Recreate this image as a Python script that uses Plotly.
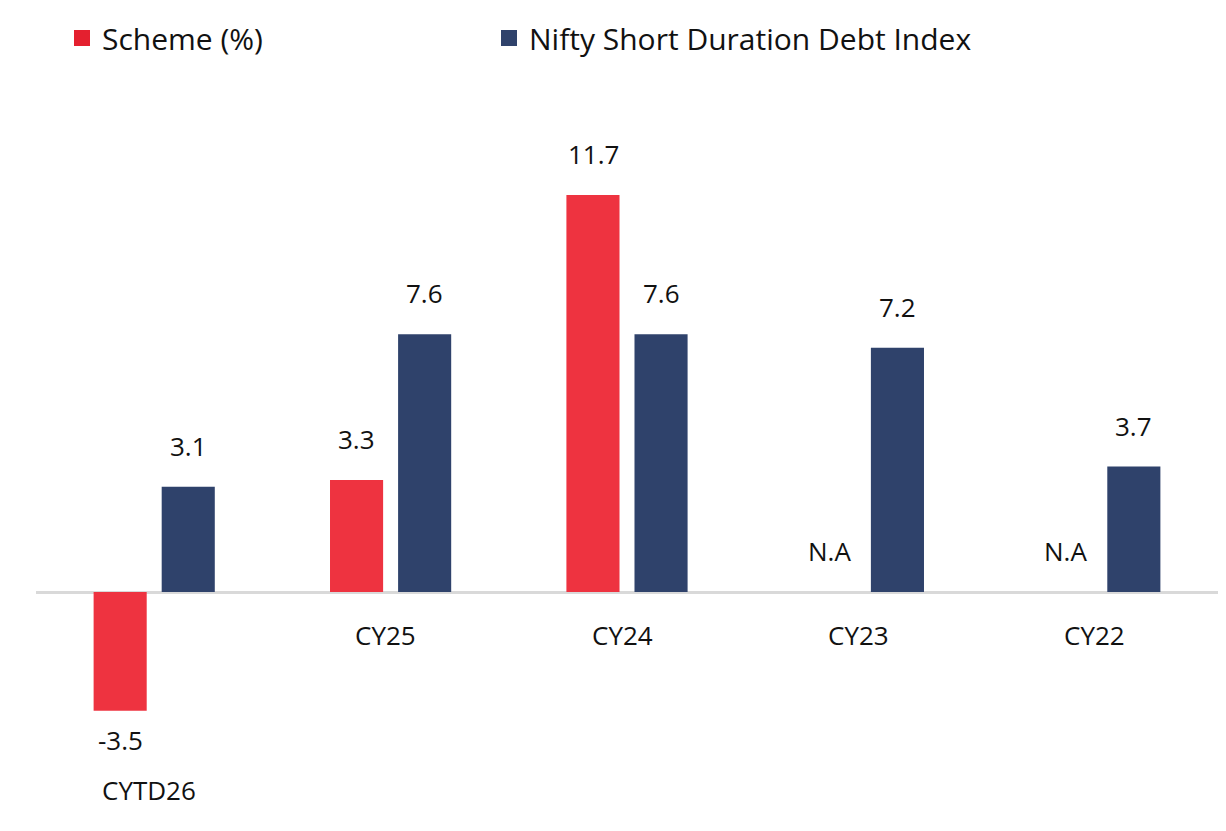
import plotly.graph_objects as go

categories = ["CYTD26", "CY25", "CY24", "CY23", "CY22"]
scheme = [-3.5, 3.3, 11.7, None, None]
index_vals = [3.1, 7.6, 7.6, 7.2, 3.7]
series_names = ["Scheme (%)", "Nifty Short Duration Debt Index"]
na_label = "N.A"

RED = "#EE3340"
RED_LEG = "#E4202F"
BLUE = "#2F426B"
FONT = "'Open Sans', sans-serif"
LBL = 26

fig = go.Figure()
fig.add_trace(go.Bar(x=categories, y=scheme, name=series_names[0], showlegend=False,
                     marker=dict(color=RED, line=dict(width=0))))
fig.add_trace(go.Bar(x=categories, y=index_vals, name=series_names[1], showlegend=False,
                     marker=dict(color=BLUE, line=dict(width=0))))
# legend entries (square swatches), one legend box each
for nm, col, lg in ((series_names[0], RED_LEG, "legend"), (series_names[1], BLUE, "legend2")):
    fig.add_trace(go.Scatter(x=[None], y=[None], mode="markers", name=nm, legend=lg,
                             marker=dict(symbol="square", size=16, color=col)))

ann = []
SH = 34
for i, c in enumerate(categories):
    for vals, xs in ((scheme, -SH), (index_vals, SH)):
        v = vals[i]
        if v is None:
            ann.append(dict(x=c, y=0, text=na_label, xshift=xs, yshift=41,
                            showarrow=False, font=dict(size=LBL, color="#111")))
        elif v >= 0:
            ann.append(dict(x=c, y=v, text=f"{v:.1f}", xshift=xs, yshift=41,
                            showarrow=False, font=dict(size=LBL, color="#111")))
        else:
            ann.append(dict(x=c, y=v, text=f"{v:.1f}", xshift=xs, yshift=-29,
                            showarrow=False, font=dict(size=LBL, color="#111")))
    mins = [v for v in (scheme[i], index_vals[i]) if v is not None]
    lo = min(mins)
    if lo < 0:
        ann.append(dict(x=c, y=lo, text=c, xshift=-5, yshift=-79, showarrow=False,
                        font=dict(size=LBL, color="#111")))
    else:
        ann.append(dict(x=c, y=0, text=c, xshift=-5, yshift=-43, showarrow=False,
                        font=dict(size=LBL, color="#111")))

leg_common = dict(orientation="h", xref="container", yref="container",
                  xanchor="left", yanchor="middle", y=1 - 38 / 831,
                  font=dict(size=30, color="#111"),
                  bgcolor="rgba(0,0,0,0)", itemclick=False, itemdoubleclick=False)

fig.update_layout(
    width=1226, height=831,
    margin=dict(l=36, r=8, t=100, b=36, autoexpand=False),
    paper_bgcolor="white", plot_bgcolor="white",
    font=dict(family=FONT, color="#111"),
    barmode="group", bargap=0.424, bargroupgap=0.22,
    showlegend=True,
    legend=dict(x=62 / 1226, **leg_common),
    legend2=dict(x=489 / 1226, **leg_common),
    xaxis=dict(showticklabels=False, showgrid=False, showline=False, ticks=""),
    yaxis=dict(range=[-5.98, 14.5], showticklabels=False, showgrid=False,
               zeroline=True, zerolinecolor="#D9D9D9", zerolinewidth=3, ticks=""),
    annotations=ann,
)

fig.write_html("out.html", config={"displayModeBar": False},
               post_script="document.body.style.margin='0px';")
